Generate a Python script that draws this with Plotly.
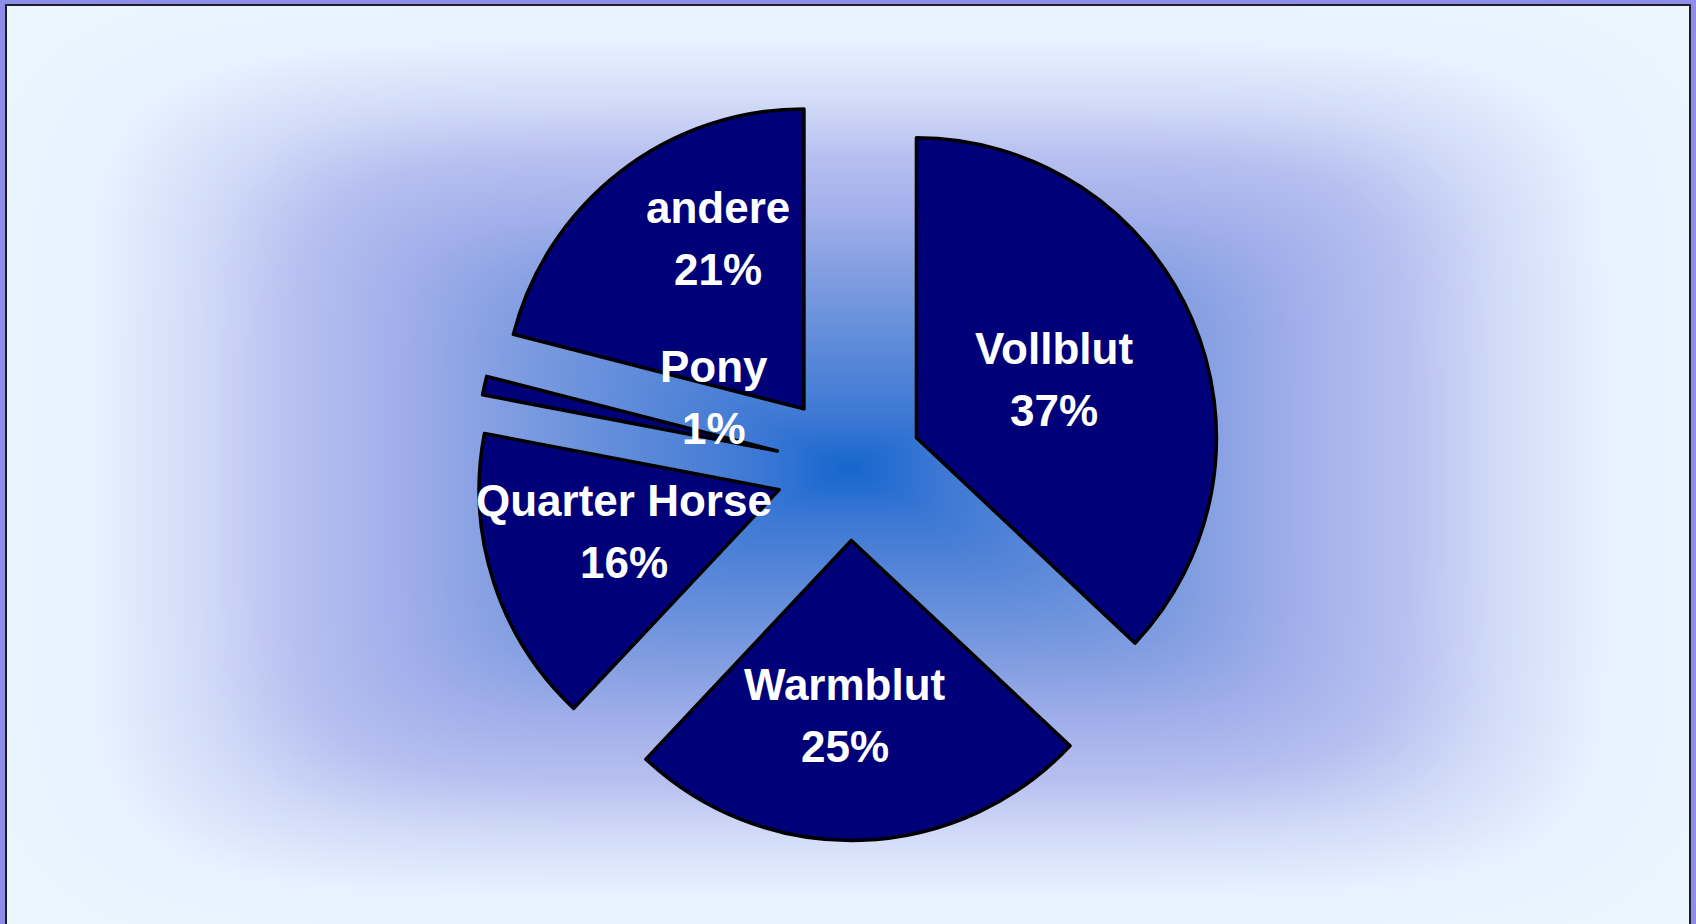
import base64
import struct
import zlib

import numpy as np
import plotly.graph_objects as go

# ---------------- data ----------------
categories = ["Vollblut", "Warmblut", "Quarter Horse", "Pony", "andere"]
shares = [37, 25, 16, 1, 21]

# ---------------- style ----------------
W, H = 1696, 924
SLICE_COLOR = "#000078"
PULL = 0.245
PIE_CX, PIE_CY = 849, 467          # pixel centre of the pie
PIE_R = 300                        # pixel radius of the pie
# label placement: (radius as fraction of r beyond the pull, angular nudge in degrees)
label_place = [(0.498, 0.4), (0.582, 2.7), (0.535, 2.1), (0.262, 14.8), (0.632, 7.9)]
LINE_GAP = 31


def png_data_uri(arr):
    h, w, _ = arr.shape
    raw = b"".join(b"\x00" + arr[y].tobytes() for y in range(h))

    def chunk(tag, data):
        c = struct.pack(">I", len(data)) + tag + data
        return c + struct.pack(">I", zlib.crc32(tag + data) & 0xFFFFFFFF)

    png = (b"\x89PNG\r\n\x1a\n"
           + chunk(b"IHDR", struct.pack(">IIBBBBB", w, h, 8, 2, 0, 0, 0))
           + chunk(b"IDAT", zlib.compress(raw, 9))
           + chunk(b"IEND", b""))
    return "data:image/png;base64," + base64.b64encode(png).decode()


# background glow (rounded-rectangle gradient from the centre)
IX0, IY0, IX1, IY1 = 6, 5, 1690, 924
S = 4
gw, gh = (IX1 - IX0) // S, (IY1 - IY0) // S
xs = (np.arange(gw) + 0.5) * S + IX0 - PIE_CX
ys = (np.arange(gh) + 0.5) * S + IY0 - PIE_CY
X, Y = np.meshgrid(xs, ys)
p = 6.0
t = (np.abs(X / 740.0) ** p + np.abs(Y / 415.0) ** p) ** (1 / p)
stops_t = [0.0, 0.12, 0.25, 0.45, 0.60, 0.75, 0.88, 1.02, 1.30]
stops_c = [(22, 102, 206), (60, 120, 212), (86, 134, 216), (126, 156, 224),
           (160, 174, 234), (184, 192, 240), (210, 220, 248), (230, 242, 255),
           (236, 247, 255)]
img = np.zeros((gh, gw, 3), dtype=np.uint8)
for k in range(3):
    img[:, :, k] = np.interp(t, stops_t, [c[k] for c in stops_c]).round().astype(np.uint8)
bg_uri = png_data_uri(img)

# ---------------- figure ----------------
ext = PIE_R * (1 + PULL)
dom_y = [1 - (PIE_CY + ext) / H, 1 - (PIE_CY - ext) / H]
dom_x = [PIE_CX / W - 0.3, PIE_CX / W + 0.3]

fig = go.Figure(go.Pie(
    labels=categories,
    values=shares,
    sort=False,
    direction="clockwise",
    rotation=0,
    pull=[PULL] * len(shares),
    marker=dict(colors=[SLICE_COLOR] * len(shares), line=dict(color="#000000", width=3.5)),
    textinfo="none",
    hoverinfo="label+percent",
    showlegend=False,
    domain=dict(x=dom_x, y=dom_y),
))

# labels from slice geometry
total = float(sum(shares))
annotations = []
cum = 0.0
for name, v, (rf, nudge) in zip(categories, shares, label_place):
    mid = (cum + v / 2) / total * 360.0 + nudge
    cum += v
    a = np.radians(mid)
    d = PIE_R * PULL + rf * PIE_R
    cx = PIE_CX + d * np.sin(a)
    cy = PIE_CY - d * np.cos(a)
    pct = f"{round(v / total * 100)}%"
    for txt, yy in ((name, cy - LINE_GAP), (pct, cy + LINE_GAP)):
        annotations.append(dict(
            text=txt, x=cx / W, y=1 - yy / H, xref="paper", yref="paper",
            xanchor="center", yanchor="middle", showarrow=False,
            font=dict(family="Liberation Sans, Arial, sans-serif", size=44,
                      color="#ffffff", weight="bold"),
        ))

fig.update_layout(
    width=W, height=H,
    margin=dict(l=0, r=0, t=0, b=0),
    paper_bgcolor="#8e8ee8",
    plot_bgcolor="rgba(0,0,0,0)",
    images=[dict(source=bg_uri, xref="paper", yref="paper",
                 x=IX0 / W, y=1 - IY0 / H, sizex=(IX1 - IX0) / W, sizey=(IY1 - IY0) / H,
                 xanchor="left", yanchor="top", sizing="stretch", layer="below")],
    shapes=[dict(type="rect", xref="paper", yref="paper",
                 x0=6 / W, x1=1690 / W, y0=-0.02, y1=1 - 5 / H,
                 line=dict(color="#1c1c2a", width=2), fillcolor="rgba(0,0,0,0)")],
    annotations=annotations,
)

fig.write_html(
    "out.html",
    config={"displayModeBar": False},
    post_script="document.body.style.margin='0px';document.body.style.overflow='hidden';",
)
